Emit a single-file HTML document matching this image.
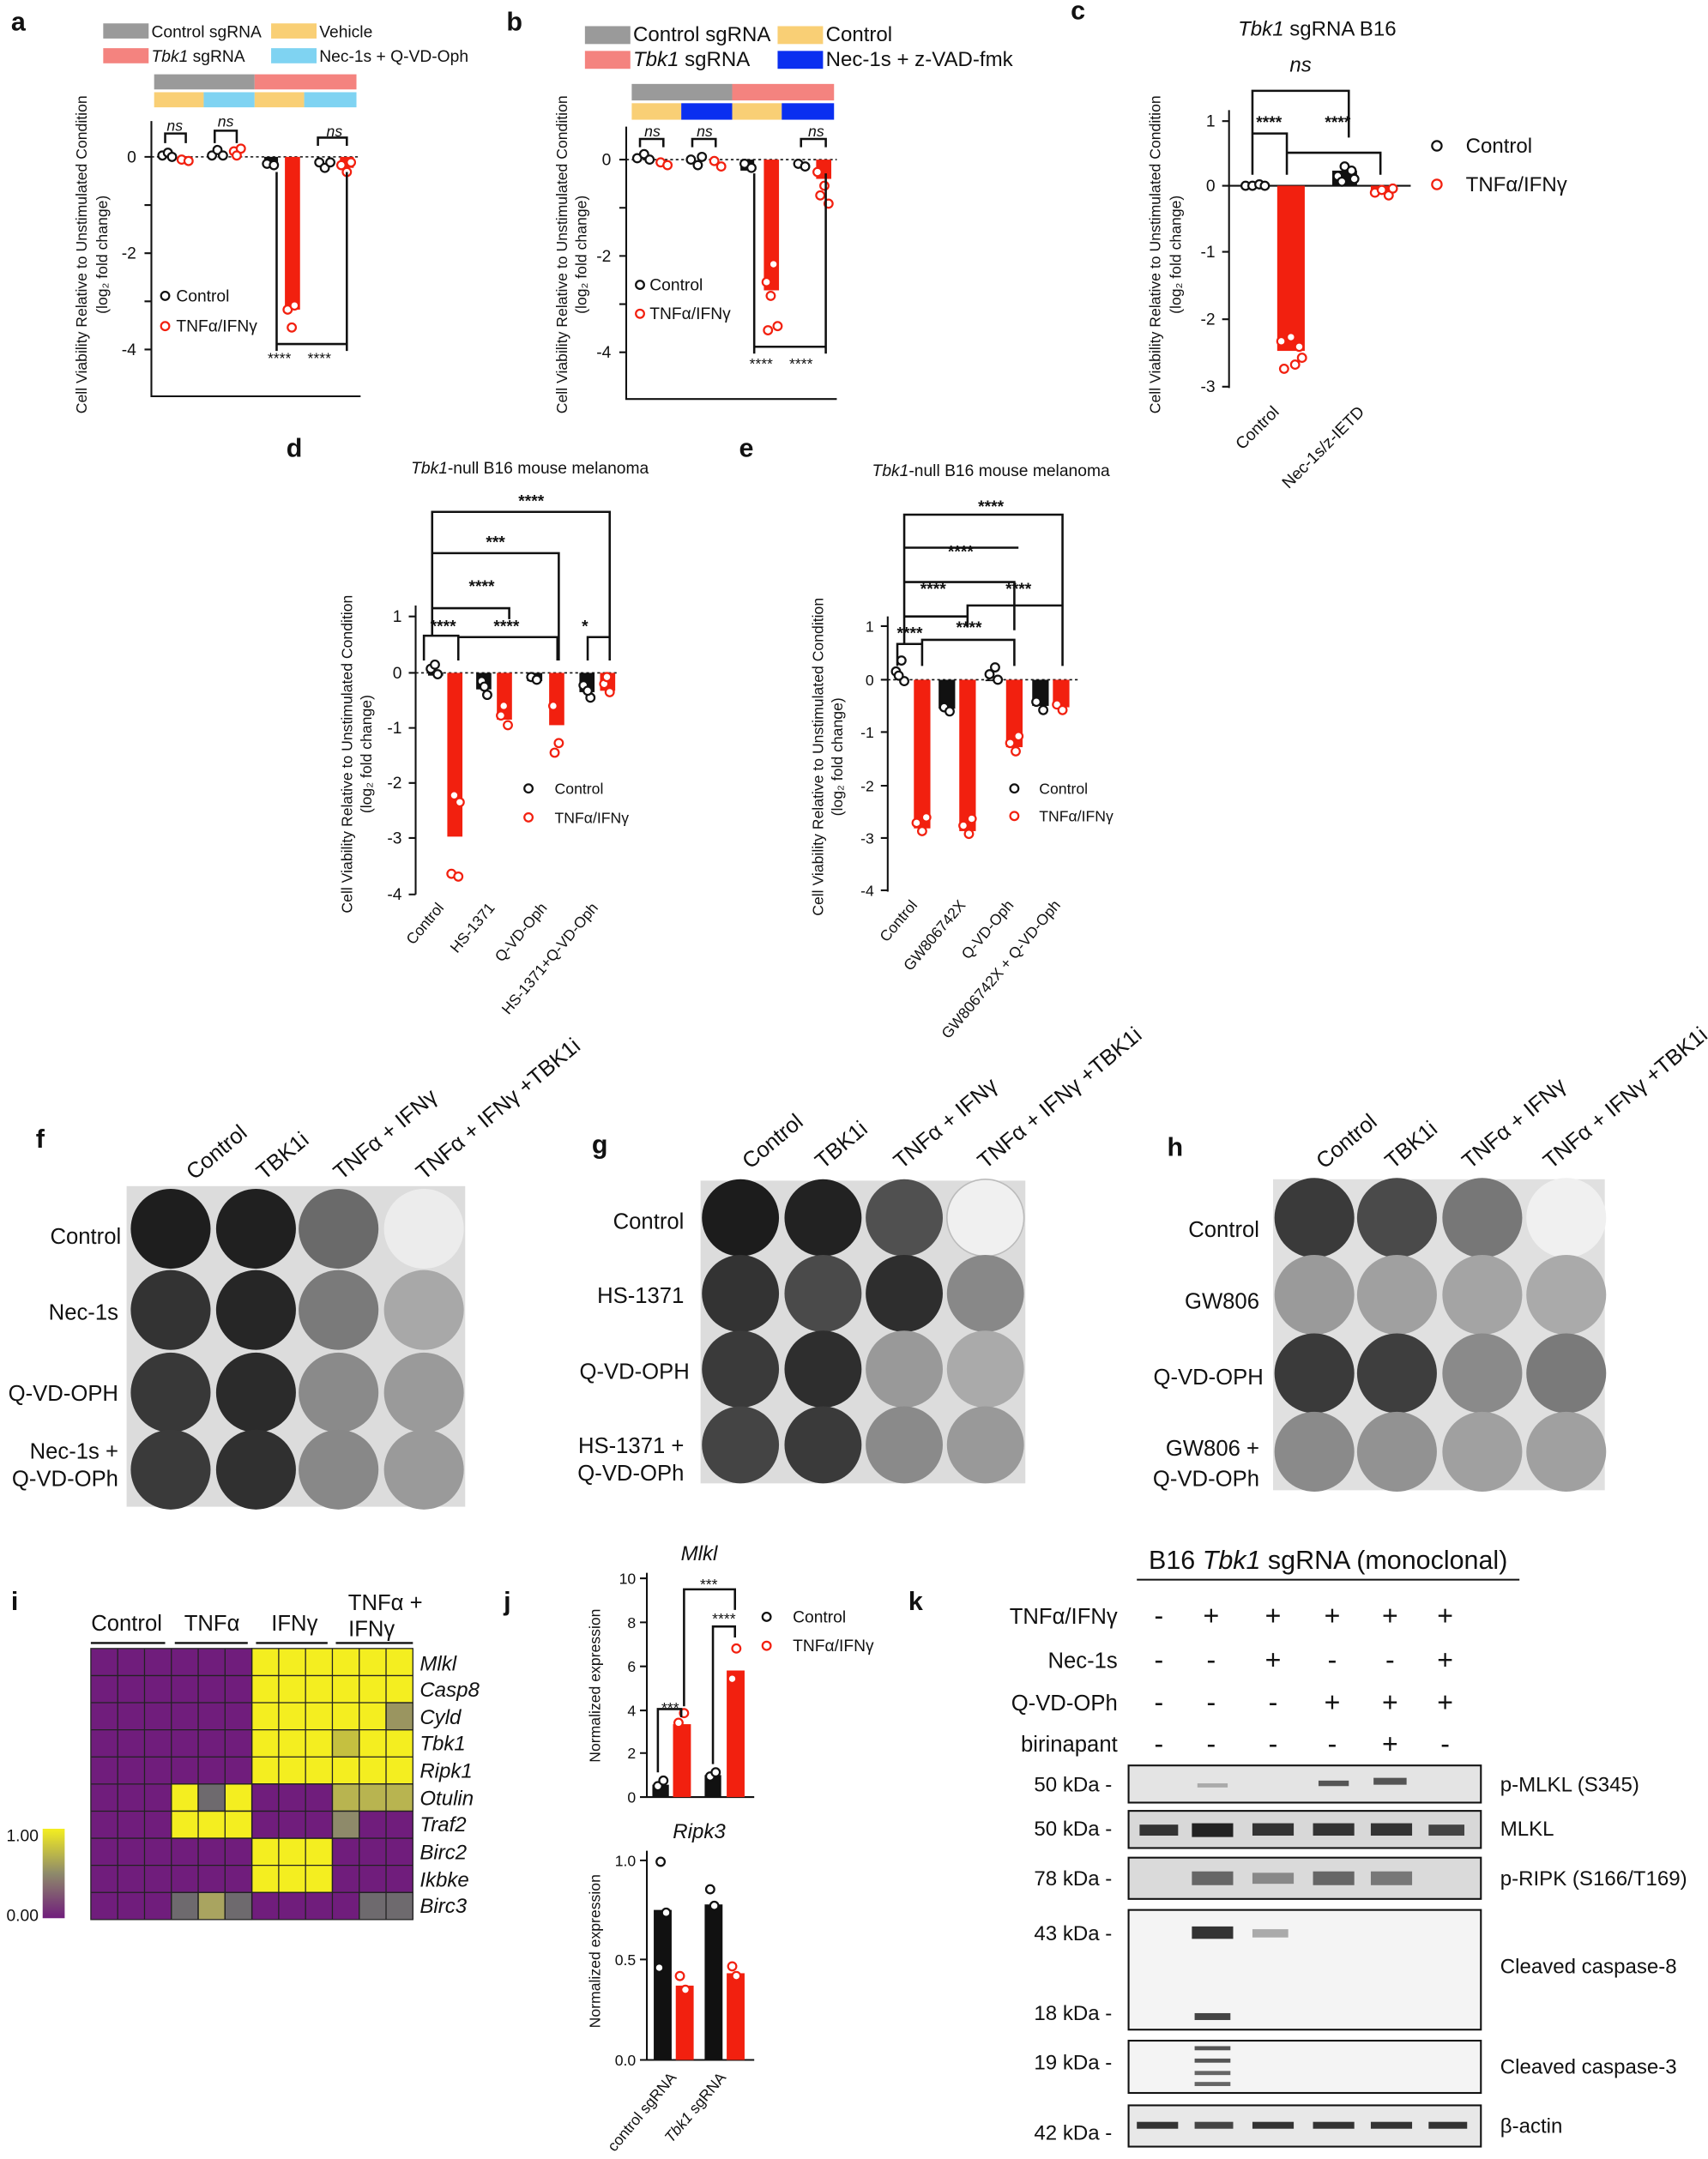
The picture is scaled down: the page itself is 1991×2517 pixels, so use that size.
<!DOCTYPE html>
<html><head><meta charset="utf-8"><style>
html,body{margin:0;padding:0;background:#fff}
svg{display:block}
text{font-family:"Liberation Sans",sans-serif;fill:#111}
.L{font-size:19px;font-weight:bold}
.t{font-size:11px}
.s{font-size:12px}
.m{font-size:15px}
.ax{stroke:#111;stroke-width:1.3;fill:none}
.rb{fill:#f2200f}
.bb{fill:#111}
.oc{fill:#fff;stroke:#111;stroke-width:1.4}
.rc{fill:#fff;stroke:#f2200f;stroke-width:1.4}
.br{stroke:#111;stroke-width:1.6;fill:none}
</style></head><body>
<svg width="1991" height="2517" viewBox="0 0 1241 1569" preserveAspectRatio="none" xmlns="http://www.w3.org/2000/svg">
<defs>
<filter id="sp" x="0" y="0" width="1" height="1"><feTurbulence type="fractalNoise" baseFrequency="0.35" numOctaves="2" seed="3"/><feColorMatrix type="matrix" values="0 0 0 0 0  0 0 0 0 0  0 0 0 0 0  0 0 0 -2.2 1.25"/><feComposite in2="SourceGraphic" operator="in"/></filter>
</defs>

<!-- Panel a -->
<text class="L" x="8" y="22">a</text>
<rect x="75" y="17" width="33" height="11" fill="#9a9a9a"/><text class="s" x="110" y="27">Control sgRNA</text>
<rect x="197" y="17" width="33" height="11" fill="#f9cf75"/><text class="s" x="232" y="27">Vehicle</text>
<rect x="75" y="35" width="33" height="11" fill="#f4837f"/><text class="s" x="110" y="45"><tspan font-style="italic">Tbk1</tspan> sgRNA</text>
<rect x="197" y="35" width="33" height="11" fill="#7fd3f2"/><text class="s" x="232" y="45">Nec-1s + Q-VD-Oph</text>
<rect x="112" y="54" width="73" height="11" fill="#9a9a9a"/><rect x="185" y="54" width="74" height="11" fill="#f4837f"/>
<rect x="112" y="67" width="36" height="11" fill="#f9cf75"/><rect x="148" y="67" width="37" height="11" fill="#7fd3f2"/>
<rect x="185" y="67" width="36" height="11" fill="#f9cf75"/><rect x="221" y="67" width="38" height="11" fill="#7fd3f2"/>
<path class="ax" d="M110 88V288H262M105 114H110M105 184H110M105 254H110M105 149H110M105 219H110"/>
<text class="s" x="99" y="118" text-anchor="end">0</text><text class="s" x="99" y="188" text-anchor="end">-2</text><text class="s" x="99" y="258" text-anchor="end">-4</text>
<line x1="110" y1="114" x2="262" y2="114" stroke="#111" stroke-dasharray="2,2"/>
<text class="t" transform="translate(63,185) rotate(-90)" text-anchor="middle">Cell Viability Relative to Unstimulated Condition</text>
<text class="t" transform="translate(78,185) rotate(-90)" text-anchor="middle">(log₂ fold change)</text>
<rect class="bb" x="192" y="114" width="10" height="8"/><rect class="rb" x="207" y="114" width="11" height="111"/>
<rect class="rb" x="247" y="114" width="10" height="8"/>
<g><circle class="oc" cx="118" cy="113" r="3"/><circle class="oc" cx="122" cy="111" r="3"/><circle class="oc" cx="125" cy="114" r="3"/>
<circle class="rc" cx="132" cy="116" r="3"/><circle class="rc" cx="137" cy="117" r="3"/>
<circle class="oc" cx="154" cy="113" r="3"/><circle class="oc" cx="158" cy="109" r="3"/><circle class="oc" cx="162" cy="113" r="3"/>
<circle class="rc" cx="170" cy="110" r="3"/><circle class="rc" cx="175" cy="108" r="3"/><circle class="rc" cx="172" cy="113" r="3"/>
<circle class="oc" cx="194" cy="119" r="3"/><circle class="oc" cx="199" cy="120" r="3"/>
<circle class="rc" cx="209" cy="225" r="3"/><circle class="rc" cx="214" cy="222" r="3"/><circle class="rc" cx="212" cy="238" r="3"/>
<circle class="oc" cx="232" cy="118" r="3"/><circle class="oc" cx="236" cy="122" r="3"/><circle class="oc" cx="240" cy="118" r="3"/>
<circle class="rc" cx="248" cy="120" r="3"/><circle class="rc" cx="252" cy="125" r="3"/><circle class="rc" cx="255" cy="118" r="3"/></g>
<path class="br" d="M120 104V97H135V104M156 104V95H172V104M231 106V100H252V106M201 125V250H252V125M201 250V255M252 250V255"/>
<text class="t" x="127" y="95" font-style="italic" text-anchor="middle">ns</text><text class="t" x="164" y="92" font-style="italic" text-anchor="middle">ns</text><text class="t" x="243" y="99" font-style="italic" text-anchor="middle">ns</text>
<text class="t" x="203" y="264" text-anchor="middle">****</text><text class="t" x="232" y="264" text-anchor="middle">****</text>
<circle class="oc" cx="120" cy="215" r="3"/><text class="s" x="128" y="219">Control</text>
<circle class="rc" cx="120" cy="237" r="3"/><text class="s" x="128" y="241">TNFα/IFNγ</text>

<!-- Panel b -->
<text class="L" x="368" y="22">b</text>
<rect x="425" y="19" width="33" height="13" fill="#9a9a9a"/><text class="m" x="460" y="30">Control sgRNA</text>
<rect x="565" y="19" width="33" height="13" fill="#f9cf75"/><text class="m" x="600" y="30">Control</text>
<rect x="425" y="37" width="33" height="13" fill="#f4837f"/><text class="m" x="460" y="48"><tspan font-style="italic">Tbk1</tspan> sgRNA</text>
<rect x="565" y="37" width="33" height="13" fill="#0a2ff0"/><text class="m" x="600" y="48">Nec-1s + z-VAD-fmk</text>
<rect x="459" y="61" width="73" height="12" fill="#9a9a9a"/><rect x="532" y="61" width="74" height="12" fill="#f4837f"/>
<rect x="459" y="75" width="36" height="12" fill="#f9cf75"/><rect x="495" y="75" width="37" height="12" fill="#0a2ff0"/>
<rect x="532" y="75" width="36" height="12" fill="#f9cf75"/><rect x="568" y="75" width="38" height="12" fill="#0a2ff0"/>
<path class="ax" d="M455 92V290H608M450 116H455M450 186H455M450 256H455M450 151H455M450 221H455"/>
<text class="s" x="444" y="120" text-anchor="end">0</text><text class="s" x="444" y="190" text-anchor="end">-2</text><text class="s" x="444" y="260" text-anchor="end">-4</text>
<line x1="455" y1="116" x2="608" y2="116" stroke="#111" stroke-dasharray="2,2"/>
<text class="t" transform="translate(412,185) rotate(-90)" text-anchor="middle">Cell Viability Relative to Unstimulated Condition</text>
<text class="t" transform="translate(426,185) rotate(-90)" text-anchor="middle">(log₂ fold change)</text>
<rect class="bb" x="538" y="116" width="10" height="8"/><rect class="rb" x="555" y="116" width="11" height="95"/>
<rect class="rb" x="593" y="116" width="11" height="14"/>
<g><circle class="oc" cx="463" cy="115" r="3"/><circle class="oc" cx="468" cy="112" r="3"/><circle class="oc" cx="472" cy="116" r="3"/>
<circle class="rc" cx="480" cy="118" r="3"/><circle class="rc" cx="485" cy="120" r="3"/>
<circle class="oc" cx="502" cy="116" r="3"/><circle class="oc" cx="507" cy="120" r="3"/><circle class="oc" cx="510" cy="114" r="3"/>
<circle class="rc" cx="519" cy="117" r="3"/><circle class="rc" cx="524" cy="121" r="3"/>
<circle class="oc" cx="541" cy="119" r="3"/><circle class="oc" cx="546" cy="122" r="3"/>
<circle class="rc" cx="557" cy="205" r="3"/><circle class="rc" cx="562" cy="192" r="3"/><circle class="rc" cx="558" cy="240" r="3"/><circle class="rc" cx="565" cy="237" r="3"/><circle class="rc" cx="560" cy="215" r="3"/>
<circle class="oc" cx="580" cy="119" r="3"/><circle class="oc" cx="585" cy="121" r="3"/>
<circle class="rc" cx="594" cy="125" r="3"/><circle class="rc" cx="599" cy="135" r="3"/><circle class="rc" cx="602" cy="148" r="3"/><circle class="rc" cx="596" cy="142" r="3"/></g>
<path class="br" d="M465 107V101H482V107M503 107V101H520V107M582 107V101H600V107M548 126V252H600V126M548 252V257M600 252V257"/>
<text class="t" x="474" y="99" font-style="italic" text-anchor="middle">ns</text><text class="t" x="512" y="99" font-style="italic" text-anchor="middle">ns</text><text class="t" x="593" y="99" font-style="italic" text-anchor="middle">ns</text>
<text class="t" x="553" y="268" text-anchor="middle">****</text><text class="t" x="582" y="268" text-anchor="middle">****</text>
<circle class="oc" cx="465" cy="207" r="3"/><text class="s" x="472" y="211">Control</text>
<circle class="rc" cx="465" cy="228" r="3"/><text class="s" x="472" y="232">TNFα/IFNγ</text>

<!-- Panel c -->
<text class="L" x="778" y="14">c</text>
<text class="m" x="957" y="26" text-anchor="middle"><tspan font-style="italic">Tbk1</tspan> sgRNA B16</text>
<path class="ax" d="M893 80V282M888 88H893M888 135H893M888 183H893M888 232H893M888 281H893"/>
<text class="s" x="883" y="92" text-anchor="end">1</text><text class="s" x="883" y="139" text-anchor="end">0</text><text class="s" x="883" y="187" text-anchor="end">-1</text><text class="s" x="883" y="236" text-anchor="end">-2</text><text class="s" x="883" y="285" text-anchor="end">-3</text>
<line x1="893" y1="135" x2="1025" y2="135" stroke="#111" stroke-width="1.3"/>
<text class="t" transform="translate(843,185) rotate(-90)" text-anchor="middle">Cell Viability Relative to Unstimulated Condition</text>
<text class="t" transform="translate(858,185) rotate(-90)" text-anchor="middle">(log₂ fold change)</text>
<rect class="rb" x="928" y="135" width="20" height="120"/><rect class="bb" x="968" y="124" width="18" height="11"/><rect class="rb" x="996" y="135" width="18" height="5"/>
<g><circle class="oc" cx="905" cy="135" r="3"/><circle class="oc" cx="910" cy="135" r="3"/><circle class="oc" cx="915" cy="134" r="3"/><circle class="oc" cx="919" cy="135" r="3"/>
<circle class="rc" cx="931" cy="248" r="3"/><circle class="rc" cx="938" cy="245" r="3"/><circle class="rc" cx="944" cy="252" r="3"/><circle class="rc" cx="933" cy="268" r="3"/><circle class="rc" cx="941" cy="265" r="3"/><circle class="rc" cx="946" cy="260" r="3"/>
<circle class="oc" cx="972" cy="128" r="3"/><circle class="oc" cx="977" cy="121" r="3"/><circle class="oc" cx="982" cy="124" r="3"/><circle class="oc" cx="975" cy="132" r="3"/><circle class="oc" cx="984" cy="130" r="3"/>
<circle class="rc" cx="999" cy="140" r="3"/><circle class="rc" cx="1004" cy="138" r="3"/><circle class="rc" cx="1009" cy="142" r="3"/><circle class="rc" cx="1012" cy="137" r="3"/></g>
<path class="br" d="M910 127V97H935V127M910 97V66H980V100M935 97V111H1003V127"/>
<text class="s" x="922" y="93" text-anchor="middle" font-weight="bold">****</text><text class="s" x="972" y="93" text-anchor="middle" font-weight="bold">****</text>
<text class="m" x="945" y="52" font-style="italic" text-anchor="middle">ns</text>
<text class="s" transform="translate(930,300) rotate(-45)" text-anchor="end">Control</text>
<text class="s" transform="translate(992,300) rotate(-45)" text-anchor="end">Nec-1s/z-IETD</text>
<circle class="oc" cx="1044" cy="106" r="3.5"/><text class="m" x="1065" y="111">Control</text>
<circle class="rc" cx="1044" cy="134" r="3.5"/><text class="m" x="1065" y="139">TNFα/IFNγ</text>

<!-- Panel d -->
<text class="L" x="208" y="332">d</text>
<text class="s" x="385" y="344" text-anchor="middle"><tspan font-style="italic">Tbk1</tspan>-null B16 mouse melanoma</text>
<path class="ax" d="M302 440V650M297 448H302M297 489H302M297 529H302M297 569H302M297 609H302M297 650H302"/>
<text class="s" x="292" y="452" text-anchor="end">1</text><text class="s" x="292" y="493" text-anchor="end">0</text><text class="s" x="292" y="533" text-anchor="end">-1</text><text class="s" x="292" y="573" text-anchor="end">-2</text><text class="s" x="292" y="613" text-anchor="end">-3</text><text class="s" x="292" y="654" text-anchor="end">-4</text>
<line x1="302" y1="489" x2="450" y2="489" stroke="#111" stroke-dasharray="2,2"/>
<text class="t" transform="translate(256,548) rotate(-90)" text-anchor="middle">Cell Viability Relative to Unstimulated Condition</text>
<text class="t" transform="translate(270,548) rotate(-90)" text-anchor="middle">(log₂ fold change)</text>
<rect class="bb" x="311" y="489" width="11" height="2"/><rect class="rb" x="325" y="489" width="11" height="119"/>
<rect class="bb" x="346" y="489" width="11" height="12"/><rect class="rb" x="361" y="489" width="11" height="34"/>
<rect class="bb" x="383" y="489" width="11" height="6"/><rect class="rb" x="399" y="489" width="11" height="38"/>
<rect class="bb" x="421" y="489" width="11" height="14"/><rect class="rb" x="436" y="489" width="11" height="13"/>
<g><circle class="oc" cx="313" cy="486" r="3"/><circle class="oc" cx="318" cy="490" r="3"/><circle class="oc" cx="316" cy="483" r="3"/>
<circle class="rc" cx="330" cy="578" r="3"/><circle class="rc" cx="334" cy="583" r="3"/><circle class="rc" cx="328" cy="635" r="3"/><circle class="rc" cx="333" cy="637" r="3"/>
<circle class="oc" cx="350" cy="495" r="3"/><circle class="oc" cx="354" cy="505" r="3"/><circle class="oc" cx="352" cy="499" r="3"/>
<circle class="rc" cx="364" cy="520" r="3"/><circle class="rc" cx="369" cy="527" r="3"/><circle class="rc" cx="366" cy="513" r="3"/>
<circle class="oc" cx="386" cy="492" r="3"/><circle class="oc" cx="390" cy="494" r="3"/>
<circle class="rc" cx="402" cy="513" r="3"/><circle class="rc" cx="406" cy="540" r="3"/><circle class="rc" cx="403" cy="547" r="3"/>
<circle class="oc" cx="424" cy="498" r="3"/><circle class="oc" cx="429" cy="507" r="3"/><circle class="oc" cx="427" cy="502" r="3"/>
<circle class="rc" cx="439" cy="497" r="3"/><circle class="rc" cx="443" cy="503" r="3"/><circle class="rc" cx="441" cy="492" r="3"/></g>
<path class="br" d="M308 480V462H333V480M314 462V442H370V450M314 442V402H406V480M314 402V372H443V480M333 470V463H405V480M427 480V463H443"/>
<text class="s" x="322" y="459" text-anchor="middle" font-weight="bold">****</text>
<text class="s" x="350" y="430" text-anchor="middle" font-weight="bold">****</text>
<text class="s" x="360" y="398" text-anchor="middle" font-weight="bold">***</text>
<text class="s" x="386" y="368" text-anchor="middle" font-weight="bold">****</text>
<text class="s" x="368" y="459" text-anchor="middle" font-weight="bold">****</text>
<text class="s" x="425" y="459" text-anchor="middle" font-weight="bold">*</text>
<circle class="oc" cx="384" cy="573" r="3"/><text class="t" x="403" y="577">Control</text>
<circle class="rc" cx="384" cy="594" r="3"/><text class="t" x="403" y="598">TNFα/IFNγ</text>
<text class="t" transform="translate(323,660) rotate(-50)" text-anchor="end">Control</text>
<text class="t" transform="translate(360,660) rotate(-50)" text-anchor="end">HS-1371</text>
<text class="t" transform="translate(398,660) rotate(-50)" text-anchor="end">Q-VD-Oph</text>
<text class="t" transform="translate(435,660) rotate(-50)" text-anchor="end">HS-1371+Q-VD-Oph</text>

<!-- Panel e -->
<text class="L" x="537" y="332">e</text>
<text class="s" x="720" y="346" text-anchor="middle"><tspan font-style="italic">Tbk1</tspan>-null B16 mouse melanoma</text>
<path class="ax" d="M645 448V648M640 455H645M640 494H645M640 532H645M640 571H645M640 609H645M640 647H645"/>
<text class="t" x="635" y="459" text-anchor="end">1</text><text class="t" x="635" y="498" text-anchor="end">0</text><text class="t" x="635" y="536" text-anchor="end">-1</text><text class="t" x="635" y="575" text-anchor="end">-2</text><text class="t" x="635" y="613" text-anchor="end">-3</text><text class="t" x="635" y="651" text-anchor="end">-4</text>
<line x1="645" y1="494" x2="785" y2="494" stroke="#111" stroke-dasharray="2,2"/>
<text class="t" transform="translate(598,550) rotate(-90)" text-anchor="middle">Cell Viability Relative to Unstimulated Condition</text>
<text class="t" transform="translate(612,550) rotate(-90)" text-anchor="middle">(log₂ fold change)</text>
<rect class="rb" x="664" y="494" width="12" height="108"/>
<rect class="bb" x="682" y="494" width="12" height="21"/><rect class="rb" x="697" y="494" width="12" height="110"/>
<rect class="bb" x="716" y="494" width="11" height="1"/><rect class="rb" x="731" y="494" width="12" height="49"/>
<rect class="bb" x="750" y="494" width="12" height="19"/><rect class="rb" x="765" y="494" width="12" height="20"/>
<g><circle class="oc" cx="651" cy="488" r="3"/><circle class="oc" cx="655" cy="480" r="3"/><circle class="oc" cx="657" cy="495" r="3"/><circle class="oc" cx="653" cy="491" r="3"/>
<circle class="rc" cx="666" cy="598" r="3"/><circle class="rc" cx="670" cy="604" r="3"/><circle class="rc" cx="673" cy="594" r="3"/>
<circle class="oc" cx="686" cy="514" r="3"/><circle class="oc" cx="690" cy="517" r="3"/>
<circle class="rc" cx="700" cy="600" r="3"/><circle class="rc" cx="704" cy="606" r="3"/><circle class="rc" cx="706" cy="595" r="3"/>
<circle class="oc" cx="719" cy="490" r="3"/><circle class="oc" cx="723" cy="485" r="3"/><circle class="oc" cx="725" cy="494" r="3"/>
<circle class="rc" cx="734" cy="540" r="3"/><circle class="rc" cx="738" cy="546" r="3"/><circle class="rc" cx="740" cy="535" r="3"/>
<circle class="oc" cx="753" cy="510" r="3"/><circle class="oc" cx="758" cy="516" r="3"/>
<circle class="rc" cx="768" cy="512" r="3"/><circle class="rc" cx="772" cy="516" r="3"/></g>
<path class="br" d="M652 484V468H670V484M657 468V448H703V456M657 448V423H737V456M657 423V398H740M657 398V374H772V484M670 474V465H737V484M703 456V440H772V458M737 458V440"/>
<text class="s" x="661" y="464" text-anchor="middle" font-weight="bold">****</text>
<text class="s" x="678" y="432" text-anchor="middle" font-weight="bold">****</text>
<text class="s" x="698" y="405" text-anchor="middle" font-weight="bold">****</text>
<text class="s" x="720" y="372" text-anchor="middle" font-weight="bold">****</text>
<text class="s" x="704" y="460" text-anchor="middle" font-weight="bold">****</text>
<text class="s" x="740" y="432" text-anchor="middle" font-weight="bold">****</text>
<circle class="oc" cx="737" cy="573" r="3"/><text class="t" x="755" y="577">Control</text>
<circle class="rc" cx="737" cy="593" r="3"/><text class="t" x="755" y="597">TNFα/IFNγ</text>
<text class="t" transform="translate(667,658) rotate(-50)" text-anchor="end">Control</text>
<text class="t" transform="translate(702,658) rotate(-50)" text-anchor="end">GW806742X</text>
<text class="t" transform="translate(737,658) rotate(-50)" text-anchor="end">Q-VD-Oph</text>
<text class="t" transform="translate(771,658) rotate(-50)" text-anchor="end">GW806742X + Q-VD-Oph</text>

<!-- Plates f g h -->
<text class="L" x="26" y="834">f</text>
<text class="L" x="430" y="838">g</text>
<text class="L" x="848" y="840">h</text>
<g font-size="16">
<text transform="translate(141,858) rotate(-40)">Control</text>
<text transform="translate(192,858) rotate(-40)">TBK1i</text>
<text transform="translate(248,858) rotate(-40)">TNFα + IFNγ</text>
<text transform="translate(308,858) rotate(-40)">TNFα + IFNγ +TBK1i</text>
<text transform="translate(545,850) rotate(-40)">Control</text>
<text transform="translate(598,850) rotate(-40)">TBK1i</text>
<text transform="translate(655,850) rotate(-40)">TNFα + IFNγ</text>
<text transform="translate(716,850) rotate(-40)">TNFα + IFNγ +TBK1i</text>
<text transform="translate(962,850) rotate(-40)">Control</text>
<text transform="translate(1012,850) rotate(-40)">TBK1i</text>
<text transform="translate(1068,850) rotate(-40)">TNFα + IFNγ</text>
<text transform="translate(1127,850) rotate(-40)">TNFα + IFNγ +TBK1i</text>
<text x="88" y="904" text-anchor="end">Control</text>
<text x="86" y="959" text-anchor="end">Nec-1s</text>
<text x="86" y="1018" text-anchor="end">Q-VD-OPH</text>
<text x="86" y="1060" text-anchor="end">Nec-1s +</text>
<text x="86" y="1080" text-anchor="end">Q-VD-OPh</text>
<text x="497" y="893" text-anchor="end">Control</text>
<text x="497" y="947" text-anchor="end">HS-1371</text>
<text x="501" y="1002" text-anchor="end">Q-VD-OPH</text>
<text x="497" y="1056" text-anchor="end">HS-1371 +</text>
<text x="497" y="1076" text-anchor="end">Q-VD-OPh</text>
<text x="915" y="899" text-anchor="end">Control</text>
<text x="915" y="951" text-anchor="end">GW806</text>
<text x="918" y="1006" text-anchor="end">Q-VD-OPH</text>
<text x="915" y="1058" text-anchor="end">GW806 +</text>
<text x="915" y="1080" text-anchor="end">Q-VD-OPh</text>
</g>
<rect x="92" y="862" width="246" height="233" fill="#dcdcdc"/>
<rect x="509" y="858" width="236" height="220" fill="#dcdcdc"/>
<rect x="925" y="857" width="241" height="226" fill="#e0e0e0"/>
<g>
<!-- f -->
<circle cx="124" cy="893" r="29" fill="#1e1e1e"/><circle cx="186" cy="893" r="29" fill="#202020"/><circle cx="246" cy="893" r="29" fill="#6a6a6a"/><circle cx="308" cy="893" r="29" fill="#ececec"/>
<circle cx="124" cy="952" r="29" fill="#333"/><circle cx="186" cy="952" r="29" fill="#262626"/><circle cx="246" cy="952" r="29" fill="#7a7a7a"/><circle cx="308" cy="952" r="29" fill="#a8a8a8"/>
<circle cx="124" cy="1012" r="29" fill="#383838"/><circle cx="186" cy="1012" r="29" fill="#2b2b2b"/><circle cx="246" cy="1012" r="29" fill="#8a8a8a"/><circle cx="308" cy="1012" r="29" fill="#9a9a9a"/>
<circle cx="124" cy="1068" r="29" fill="#3a3a3a"/><circle cx="186" cy="1068" r="29" fill="#303030"/><circle cx="246" cy="1068" r="29" fill="#888"/><circle cx="308" cy="1068" r="29" fill="#9a9a9a"/>
<!-- g -->
<circle cx="538" cy="885" r="28" fill="#1c1c1c"/><circle cx="598" cy="885" r="28" fill="#222"/><circle cx="657" cy="885" r="28" fill="#505050"/><circle cx="716" cy="885" r="28" fill="#f0f0f0" stroke="#bbb"/>
<circle cx="538" cy="940" r="28" fill="#333"/><circle cx="598" cy="940" r="28" fill="#4a4a4a"/><circle cx="657" cy="940" r="28" fill="#2e2e2e"/><circle cx="716" cy="940" r="28" fill="#888"/>
<circle cx="538" cy="995" r="28" fill="#3a3a3a"/><circle cx="598" cy="995" r="28" fill="#2e2e2e"/><circle cx="657" cy="995" r="28" fill="#999"/><circle cx="716" cy="995" r="28" fill="#aaa"/>
<circle cx="538" cy="1050" r="28" fill="#444"/><circle cx="598" cy="1050" r="28" fill="#3a3a3a"/><circle cx="657" cy="1050" r="28" fill="#8a8a8a"/><circle cx="716" cy="1050" r="28" fill="#999"/>
<!-- h -->
<circle cx="955" cy="885" r="29" fill="#3a3a3a"/><circle cx="1015" cy="885" r="29" fill="#4a4a4a"/><circle cx="1077" cy="885" r="29" fill="#777"/><circle cx="1138" cy="885" r="29" fill="#f0f0f0"/>
<circle cx="955" cy="941" r="29" fill="#9a9a9a"/><circle cx="1015" cy="941" r="29" fill="#a0a0a0"/><circle cx="1077" cy="941" r="29" fill="#a4a4a4"/><circle cx="1138" cy="941" r="29" fill="#aaa"/>
<circle cx="955" cy="998" r="29" fill="#3a3a3a"/><circle cx="1015" cy="998" r="29" fill="#3e3e3e"/><circle cx="1077" cy="998" r="29" fill="#8a8a8a"/><circle cx="1138" cy="998" r="29" fill="#7a7a7a"/>
<circle cx="955" cy="1055" r="29" fill="#8a8a8a"/><circle cx="1015" cy="1055" r="29" fill="#929292"/><circle cx="1077" cy="1055" r="29" fill="#a0a0a0"/><circle cx="1138" cy="1055" r="29" fill="#a0a0a0"/>
</g>

<!-- Panel i heatmap -->
<text class="L" x="8" y="1170">i</text>
<g font-size="16"><text x="92" y="1185" text-anchor="middle">Control</text><text x="154" y="1185" text-anchor="middle">TNFα</text><text x="214" y="1185" text-anchor="middle">IFNγ</text><text x="280" y="1170" text-anchor="middle">TNFα +</text><text x="270" y="1189" text-anchor="middle">IFNγ</text></g>
<path d="M66 1194H120M127 1194H180M186 1194H238M244 1194H300" stroke="#111" stroke-width="1.5"/>
<g stroke="#222" stroke-width="0.8">
<rect x="66" y="1198" width="117" height="197" fill="#701d7c"/>
<rect x="183" y="1198" width="117" height="98.5" fill="#f4ee20"/>
<rect x="183" y="1296.5" width="117" height="98.5" fill="#701d7c"/>
<rect x="280.5" y="1237.4" width="19.5" height="19.7" fill="#9a9560"/>
<rect x="241.5" y="1257.1" width="19.5" height="19.7" fill="#c5c040"/>
<rect x="124.5" y="1296.5" width="19.5" height="19.7" fill="#f4ee20"/>
<rect x="163.5" y="1296.5" width="19.5" height="19.7" fill="#f4ee20"/>
<rect x="183" y="1296.5" width="19.5" height="19.7" fill="#701d7c"/>
<rect x="241.5" y="1296.5" width="58.5" height="19.7" fill="#b8b450"/>
<rect x="144" y="1296.5" width="19.5" height="19.7" fill="#6e6a6e"/>
<rect x="124.5" y="1316.2" width="58.5" height="19.7" fill="#f4ee20"/>
<rect x="241.5" y="1316.2" width="19.5" height="19.7" fill="#8e8a6a"/>
<rect x="183" y="1335.9" width="58.5" height="39.4" fill="#f4ee20"/>
<rect x="124.5" y="1375.3" width="19.5" height="19.7" fill="#6e6a6e"/>
<rect x="144" y="1375.3" width="19.5" height="19.7" fill="#a9a460"/>
<rect x="163.5" y="1375.3" width="19.5" height="19.7" fill="#6e6a6e"/>
<rect x="261" y="1375.3" width="39" height="19.7" fill="#6e6a6e"/>
</g>
<g stroke="#222" stroke-width="0.8">
<path d="M85.5 1198V1395M105 1198V1395M124.5 1198V1395M144 1198V1395M163.5 1198V1395M183 1198V1395M202.5 1198V1395M222 1198V1395M241.5 1198V1395M261 1198V1395M280.5 1198V1395"/>
<path d="M66 1217.7H300M66 1237.4H300M66 1257.1H300M66 1276.8H300M66 1296.5H300M66 1316.2H300M66 1335.9H300M66 1355.6H300M66 1375.3H300"/>
</g>
<g font-size="15" font-style="italic"><text x="305" y="1214">Mlkl</text><text x="305" y="1233">Casp8</text><text x="305" y="1253">Cyld</text><text x="305" y="1272">Tbk1</text><text x="305" y="1292">Ripk1</text><text x="305" y="1312">Otulin</text><text x="305" y="1331">Traf2</text><text x="305" y="1351">Birc2</text><text x="305" y="1371">Ikbke</text><text x="305" y="1390">Birc3</text></g>
<defs><linearGradient id="cb" x1="0" y1="1" x2="0" y2="0"><stop offset="0" stop-color="#701d7c"/><stop offset="0.5" stop-color="#8e8a6a"/><stop offset="1" stop-color="#f4ee20"/></linearGradient></defs>
<rect x="31" y="1329" width="16" height="65" fill="url(#cb)"/>
<text class="s" x="28" y="1338" text-anchor="end">1.00</text><text class="s" x="28" y="1396" text-anchor="end">0.00</text>

<!-- Panel j -->
<text class="L" x="366" y="1170">j</text>
<text class="m" x="508" y="1134" font-style="italic" text-anchor="middle">Mlkl</text>
<path class="ax" d="M470 1143V1306H548M465 1147H470M465 1179H470M465 1211H470M465 1243H470M465 1274H470M465 1306H470"/>
<g class="t" text-anchor="end"><text x="462" y="1151">10</text><text x="462" y="1183">8</text><text x="462" y="1215">6</text><text x="462" y="1247">4</text><text x="462" y="1278">2</text><text x="462" y="1310">0</text></g>
<text class="t" transform="translate(436,1225) rotate(-90)" text-anchor="middle">Normalized expression</text>
<rect class="bb" x="474" y="1297" width="12" height="9"/><rect class="rb" x="489" y="1253" width="13" height="53"/>
<rect class="bb" x="512" y="1290" width="12" height="16"/><rect class="rb" x="528" y="1214" width="13" height="92"/>
<g><circle class="oc" cx="478" cy="1298" r="3"/><circle class="oc" cx="482" cy="1294" r="3"/><circle class="rc" cx="493" cy="1252" r="3"/><circle class="rc" cx="497" cy="1245" r="3"/><circle class="oc" cx="516" cy="1291" r="3"/><circle class="oc" cx="520" cy="1288" r="3"/><circle class="rc" cx="532" cy="1220" r="3"/><circle class="rc" cx="535" cy="1198" r="3"/></g>
<path class="br" d="M478 1288V1242H495V1248M497 1240V1155H534V1170M518 1282V1182H534V1190"/>
<text class="t" x="487" y="1245" text-anchor="middle">***</text><text class="t" x="515" y="1155" text-anchor="middle">***</text><text class="t" x="526" y="1180" text-anchor="middle">****</text>
<circle class="oc" cx="557" cy="1175" r="3"/><text class="s" x="576" y="1179">Control</text>
<circle class="rc" cx="557" cy="1196" r="3"/><text class="s" x="576" y="1200">TNFα/IFNγ</text>
<text class="m" x="508" y="1336" font-style="italic" text-anchor="middle">Ripk3</text>
<path class="ax" d="M470 1345V1497H548M465 1352H470M465 1424H470M465 1497H470"/>
<g class="t" text-anchor="end"><text x="462" y="1356">1.0</text><text x="462" y="1428">0.5</text><text x="462" y="1501">0.0</text></g>
<text class="t" transform="translate(436,1418) rotate(-90)" text-anchor="middle">Normalized expression</text>
<rect class="bb" x="475" y="1388" width="13" height="109"/><rect class="rb" x="491" y="1443" width="13" height="54"/>
<rect class="bb" x="512" y="1384" width="13" height="113"/><rect class="rb" x="528" y="1434" width="13" height="63"/>
<g><circle class="oc" cx="480" cy="1353" r="3"/><circle class="oc" cx="484" cy="1390" r="3"/><circle class="oc" cx="479" cy="1430" r="3"/><circle class="rc" cx="494" cy="1436" r="3"/><circle class="rc" cx="498" cy="1446" r="3"/><circle class="oc" cx="516" cy="1373" r="3"/><circle class="oc" cx="519" cy="1385" r="3"/><circle class="rc" cx="532" cy="1429" r="3"/><circle class="rc" cx="535" cy="1436" r="3"/></g>
<text class="t" transform="translate(492,1510) rotate(-50)" text-anchor="end">control sgRNA</text>
<text class="t" transform="translate(528,1510) rotate(-50)" text-anchor="end"><tspan font-style="italic">Tbk1</tspan> sgRNA</text>

<!-- Panel k -->
<text class="L" x="660" y="1170">k</text>
<text font-size="19" x="965" y="1140" text-anchor="middle">B16 <tspan font-style="italic">Tbk1</tspan> sgRNA (monoclonal)</text>
<line x1="826" y1="1148" x2="1104" y2="1148" stroke="#111" stroke-width="1.3"/>
<g font-size="16" text-anchor="end"><text x="812" y="1180">TNFα/IFNγ</text><text x="812" y="1212">Nec-1s</text><text x="812" y="1243">Q-VD-OPh</text><text x="812" y="1273">birinapant</text></g>
<g font-size="20" text-anchor="middle">
<text x="842" y="1181">-</text><text x="880" y="1181">+</text><text x="925" y="1181">+</text><text x="968" y="1181">+</text><text x="1010" y="1181">+</text><text x="1050" y="1181">+</text>
<text x="842" y="1213">-</text><text x="880" y="1213">-</text><text x="925" y="1213">+</text><text x="968" y="1213">-</text><text x="1010" y="1213">-</text><text x="1050" y="1213">+</text>
<text x="842" y="1244">-</text><text x="880" y="1244">-</text><text x="925" y="1244">-</text><text x="968" y="1244">+</text><text x="1010" y="1244">+</text><text x="1050" y="1244">+</text>
<text x="842" y="1274">-</text><text x="880" y="1274">-</text><text x="925" y="1274">-</text><text x="968" y="1274">-</text><text x="1010" y="1274">+</text><text x="1050" y="1274">-</text>
</g>
<g font-size="15" text-anchor="end"><text x="808" y="1302">50 kDa -</text><text x="808" y="1334">50 kDa -</text><text x="808" y="1370">78 kDa -</text><text x="808" y="1410">43 kDa -</text><text x="808" y="1468">18 kDa -</text><text x="808" y="1504">19 kDa -</text><text x="808" y="1555">42 kDa -</text></g>
<g font-size="15"><text x="1090" y="1302">p-MLKL (S345)</text><text x="1090" y="1334">MLKL</text><text x="1090" y="1370">p-RIPK (S166/T169)</text><text x="1090" y="1434">Cleaved caspase-8</text><text x="1090" y="1507">Cleaved caspase-3</text><text x="1090" y="1550">β-actin</text></g>
<g stroke="#111" stroke-width="1.3">
<rect x="820" y="1283" width="256" height="27" fill="#e4e4e4"/>
<rect x="820" y="1316" width="256" height="27" fill="#d8d8d8"/>
<rect x="820" y="1350" width="256" height="30" fill="#dadada"/>
<rect x="820" y="1388" width="256" height="87" fill="#f4f4f4"/>
<rect x="820" y="1483" width="256" height="38" fill="#f4f4f4"/>
<rect x="820" y="1530" width="256" height="30" fill="#e8e8e8"/>
</g>
<g fill="#555">
<rect x="870" y="1296" width="22" height="3" fill="#aaa"/><rect x="958" y="1294" width="22" height="4"/><rect x="998" y="1292" width="24" height="5"/>
<rect x="828" y="1326" width="28" height="8" fill="#333"/><rect x="866" y="1325" width="30" height="10" fill="#222"/><rect x="910" y="1325" width="30" height="9" fill="#333"/><rect x="954" y="1325" width="30" height="9" fill="#333"/><rect x="996" y="1325" width="30" height="9" fill="#333"/><rect x="1038" y="1326" width="26" height="8" fill="#444"/>
<rect x="866" y="1360" width="30" height="10" fill="#666"/><rect x="910" y="1361" width="30" height="8" fill="#888"/><rect x="954" y="1360" width="30" height="10" fill="#666"/><rect x="996" y="1360" width="30" height="10" fill="#777"/>
<rect x="866" y="1400" width="30" height="9" fill="#333"/><rect x="910" y="1402" width="26" height="6" fill="#aaa"/>
<rect x="868" y="1463" width="26" height="5" fill="#444"/>
<rect x="868" y="1487" width="26" height="3" fill="#555"/><rect x="868" y="1496" width="26" height="3" fill="#555"/><rect x="868" y="1505" width="26" height="3" fill="#666"/><rect x="868" y="1513" width="26" height="3" fill="#666"/>
<rect x="826" y="1542" width="30" height="5" fill="#333"/><rect x="868" y="1542" width="28" height="5" fill="#444"/><rect x="910" y="1542" width="30" height="5" fill="#333"/><rect x="954" y="1542" width="30" height="5" fill="#333"/><rect x="996" y="1542" width="30" height="5" fill="#333"/><rect x="1038" y="1542" width="28" height="5" fill="#333"/>
</g>
</svg>
</body></html>
